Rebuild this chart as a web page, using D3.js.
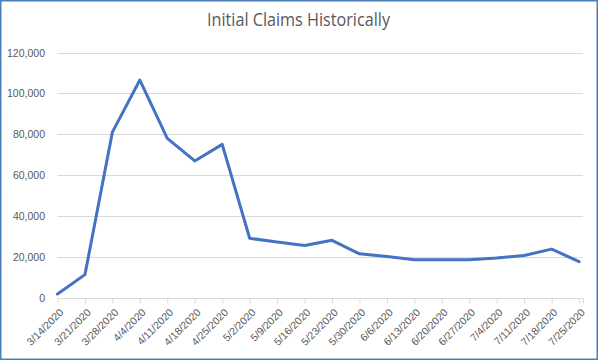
<!DOCTYPE html>
<html><head><meta charset="utf-8">
<script src="https://cdn.jsdelivr.net/npm/d3@7"></script>
<style>body{margin:0;background:#fff}svg{display:block}</style>
</head><body><svg id="c" width="598" height="360"></svg>
<script>
const categories = ["3/14/2020","3/21/2020","3/28/2020","4/4/2020","4/11/2020","4/18/2020","4/25/2020","5/2/2020","5/9/2020","5/16/2020","5/23/2020","5/30/2020","6/6/2020","6/13/2020","6/20/2020","6/27/2020","7/4/2020","7/11/2020","7/18/2020","7/25/2020"];
const claims = [1700,11200,81000,106500,77900,66900,75000,29000,27200,25500,28000,21400,20100,18500,18500,18500,19300,20600,23700,17600];
const yTicks = [0,20000,40000,60000,80000,100000,120000];
const title = "Initial Claims Historically";

const svg = d3.select("#c");
const W = 598, H = 360;
const m = {l:57.5, r:15, t:52.5, b:62.5};
const x = d3.scaleLinear().domain([0, categories.length - 1 + 1/7]).range([m.l, W - m.r]);
const y = d3.scaleLinear().domain([0,120000]).range([H - m.b, m.t]);
const grey = "#595959";

svg.append("rect").attr("x",0.75).attr("y",0.75).attr("width",W-1.5).attr("height",H-1.5)
  .attr("fill","#fff").attr("stroke","#4a7ebb").attr("stroke-width",1.5);

svg.append("text").attr("x",207).attr("y",26)
  .attr("font-family","Open Sans, Liberation Sans, sans-serif").attr("font-size",18).attr("fill",grey)
  .attr("textLength",183).attr("lengthAdjust","spacingAndGlyphs")
  .text(title);

// gridlines
svg.append("g").selectAll("line").data(yTicks.filter(d=>d>0)).join("line")
  .attr("x1",x.range()[0]).attr("x2",x.range()[1])
  .attr("y1",d=>Math.round(y(d))+0.5).attr("y2",d=>Math.round(y(d))+0.5)
  .attr("stroke","#d9d9d9").attr("stroke-width",1);

// y labels
svg.append("g").selectAll("text").data(yTicks).join("text")
  .attr("x",45).attr("y",d=>y(d)+4).attr("text-anchor","end")
  .attr("font-family","Liberation Sans, Arial, sans-serif").attr("font-size",10.5).attr("fill",grey)
  .text(d=>d3.format(",")(d));

// x axis
const xa = svg.append("g").attr("transform",`translate(0,${Math.round(y(0))+0.5})`)
  .call(d3.axisBottom(x).tickValues([...d3.range(categories.length), x.domain()[1]]).tickSize(5).tickFormat(""));
xa.select(".domain").attr("stroke","#d9d9d9").attr("d",`M${x.range()[0]},0H${x.range()[1]}`);
xa.selectAll(".tick line").attr("stroke","#d9d9d9");

svg.append("g").selectAll("text").data(categories).join("text")
  .attr("transform",(d,i)=>`translate(${x(i)+4},${y(0)+13}) rotate(-45)`)
  .attr("text-anchor","end").attr("dy","0.35em")
  .attr("font-family","Liberation Sans, Arial, sans-serif").attr("font-size",10.5).attr("fill",grey)
  .text(d=>d);

// line
svg.append("path").datum(claims)
  .attr("fill","none").attr("stroke","#4472c4").attr("stroke-width",3).attr("stroke-linejoin","round").attr("stroke-linecap","round")
  .attr("d", d3.line().x((d,i)=>x(i)).y(d=>y(d)));
</script></body></html>
